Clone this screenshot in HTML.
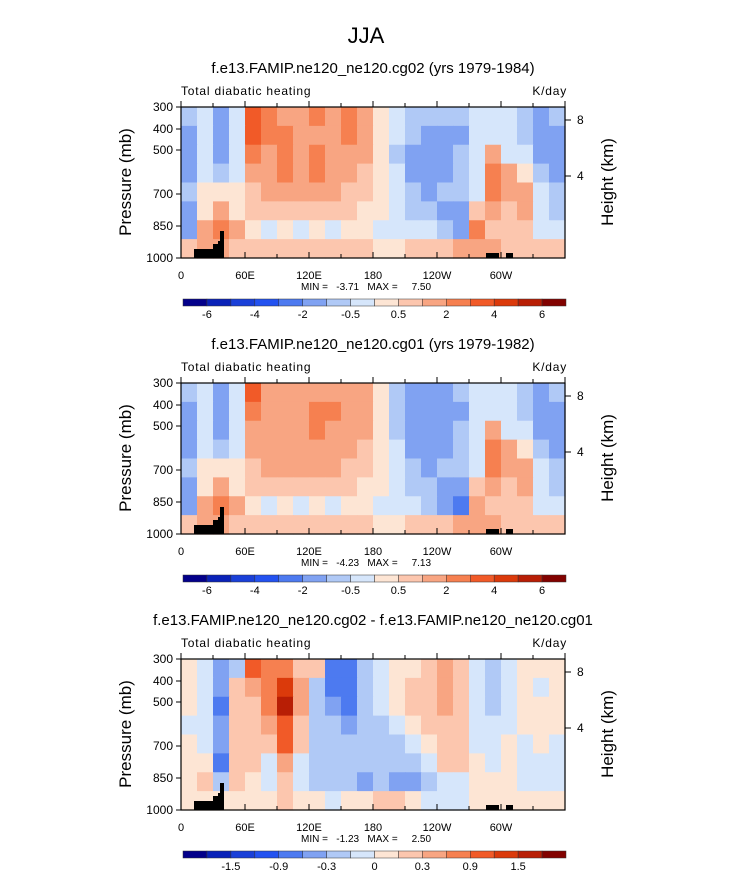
<!DOCTYPE html>
<html><head><meta charset="utf-8"><style>
body{margin:0;background:#fff;}
svg{display:block;font-family:"Liberation Sans",sans-serif;}
</style></head><body>
<svg id="fig" width="733" height="873" viewBox="0 0 733 873">
<text x="366" y="43" text-anchor="middle" font-size="22">JJA</text>
</svg>
<script>
// longitude columns (15 deg each, 0..360), rows 300mb->1000mb
const lonCols = [0,15,30,45,60,75,90,105,120,135,150,165,180,195,210,225,240,255,270,285,300,315,330,345];
const xTickLabels = ["0","60E","120E","180","120W","60W"];
const pTicks = [300,400,500,700,850,1000];
const hTicks = [8,4];
const levels1 = [-6,-5,-4,-3,-2,-1,-0.5,0,0.5,1,2,3,4,5,6];
const levels3 = [-1.8,-1.5,-1.2,-0.9,-0.6,-0.3,-0.15,0,0.15,0.3,0.6,0.9,1.2,1.5,1.8];
const cbLabels1 = ["-6","-4","-2","-0.5","0.5","2","4","6"];
const cbLabels3 = ["-1.5","-0.9","-0.3","0","0.3","0.9","1.5"];
const palette = ["#03008a","#0a22b8","#1a40d8","#2352f0","#4d7af0","#80a2f2","#b0c9f6","#d6e6fb","#fde5d4","#fcc6ae","#f8a582","#f68050","#f15a28","#db3a0b","#b81e05","#820200"];
const panel1 = [
[-1,-0.3,-1.5,-0.3,3.2,2.2,1.5,1.5,2.2,1.5,2.2,1.5,0.3,-0.3,-1,-1,-1,-1,-0.3,-0.3,-0.3,-1,-1.5,-1],
[-1.5,-0.3,-1.5,-0.3,3.2,2.2,2.2,1.5,1.5,1.5,2.2,1.5,0.3,-0.3,-1,-1.5,-1.5,-1.5,-0.3,-0.3,-0.3,-1,-1.5,-1.5],
[-1.5,-0.3,-1.5,-0.3,2.2,1.5,2.2,1.5,2.2,1.5,1.5,1.2,0.3,-1,-1.5,-1.5,-1.5,-1,-0.3,1.5,-0.3,-0.3,-1.5,-1.5],
[-1.5,-0.3,-1,-0.3,1.5,1.2,2.2,1.5,2.2,1.5,1.2,0.8,0.3,-0.3,-1.5,-1.5,-1.5,-1,-0.3,2.2,1,0.3,-1,-1.5],
[-1,0.3,0.3,0.3,0.8,1.2,1.5,1.2,1.5,1.2,0.8,0.7,0.3,-0.3,-1,-1.5,-1,-1,-0.3,2.2,1,1.5,-0.3,-1],
[-1.5,0.3,1.5,0.3,0.5,0.5,0.8,0.5,0.8,0.5,0.5,0.3,0.2,-0.3,-1,-1,-1.5,-2,0.5,1.5,0.5,1,-0.3,-1],
[-2,1,2.5,1.5,0.3,-0.3,0.3,-0.3,0.3,-0.3,0.3,0.3,-0.3,-0.3,-0.3,-0.5,-0.8,-1.5,2,0.5,0.5,0.5,-0.3,-0.5],
[0.5,1.5,1.5,0.5,0.5,0.5,0.5,0.5,0.5,0.5,0.5,0.5,0.3,0.3,0.5,0.5,0.5,1,1.5,1.5,0.5,0.5,0.5,0.5]];
const panel2 = [
[-1,-0.3,-1.5,-0.3,3.2,1.5,1.5,1.5,1.5,1.5,1.5,1,0.3,-1,-1.5,-1.5,-1.5,-1,-0.3,-0.3,-0.3,-1,-1.5,-1],
[-1.5,-0.3,-1.5,-0.3,2.2,1.5,1.5,1.5,2.2,2.2,1.5,1,0.3,-1,-1.5,-1.5,-1.5,-1.5,-0.3,-0.3,-0.3,-1,-1.5,-1.5],
[-1.5,-0.3,-1.5,-0.3,1.5,1.5,1.5,1.5,2.2,1.5,1.5,1,0.3,-1,-1.5,-1.5,-1.5,-1,-0.3,1.5,-0.3,-0.3,-1.5,-1.5],
[-1.5,-0.3,-1,-0.3,1.2,1,1.5,1.5,1.5,1.5,1,0.8,0.3,-0.3,-1.5,-1.5,-1.5,-1,-0.3,2.2,1,0.3,-1,-1.5],
[-1,0.3,0.3,0.3,0.8,1,1.2,1,1.2,1,0.8,0.5,0.3,-0.3,-1,-1.5,-1,-1,-0.3,2.2,1,1.5,-0.3,-1],
[-1.5,0.3,1.5,0.3,0.5,0.5,0.8,0.5,0.8,0.5,0.5,0.3,0.2,-0.3,-1,-1,-1.5,-2,0.5,1.5,0.5,1,-0.3,-1],
[-2,1,2.5,1.5,0.3,-0.3,0.3,-0.3,0.3,-0.3,0.3,0.3,-0.3,-0.3,-0.3,-0.8,-1.5,-2.5,1.5,0.5,0.5,0.5,-0.3,-0.5],
[0.5,1.5,1.5,0.5,0.5,0.5,0.5,0.5,0.5,0.5,0.5,0.5,0.3,0.3,0.5,0.5,0.5,1,1.5,1.5,0.5,0.5,0.5,0.5]];
const panel3 = [
[0.1,-0.1,-0.4,-0.2,0.9,0.7,0.7,0.2,0.2,-0.7,-0.7,-0.2,-0.1,0.1,0.1,0.2,0.4,0.2,-0.1,-0.2,-0.1,0.1,0.1,0.1],
[0.1,-0.1,-0.4,0.2,0.4,0.7,1.3,0.4,-0.2,-0.7,-0.7,-0.2,-0.1,0.1,0.2,0.2,0.4,0.2,-0.1,-0.2,-0.1,0.1,-0.1,0.1],
[0.1,-0.1,-0.7,0.2,0.2,0.7,1.6,0.4,-0.2,-0.4,-0.7,-0.2,-0.1,0.1,0.2,0.2,0.4,0.2,-0.1,-0.2,-0.1,0.1,0.1,0.1],
[-0.1,-0.1,-0.4,0.2,0.2,0.4,1.0,0.2,-0.2,-0.2,-0.4,-0.2,-0.2,-0.1,0.1,0.2,0.2,0.2,-0.1,-0.1,-0.1,0.1,0.1,0.1],
[0.1,-0.1,-0.4,0.2,0.2,0.2,1.0,0.2,-0.2,-0.2,-0.2,-0.2,-0.2,-0.2,-0.1,0.1,0.2,0.2,-0.1,-0.1,0.1,-0.1,0.1,-0.1],
[0.1,0.1,-0.7,0.2,0.2,-0.1,0.4,-0.1,-0.2,-0.2,-0.2,-0.2,-0.2,-0.2,-0.2,-0.1,0.2,0.2,0.1,-0.1,0.1,-0.1,-0.1,-0.1],
[0.1,0.2,-0.2,0.2,0.1,-0.1,0.2,-0.1,-0.2,-0.2,-0.2,-0.4,-0.2,-0.4,-0.4,-0.2,-0.1,-0.1,0.1,0.1,0.1,-0.1,-0.1,-0.1],
[0.1,0.1,0.1,0.1,0.1,0.1,0.2,0.1,0.1,-0.1,0.1,0.1,0.2,0.2,0.1,-0.1,-0.1,-0.1,0.1,0.1,0.1,0.1,0.1,0.1]];
const titles = ["f.e13.FAMIP.ne120_ne120.cg02 (yrs 1979-1984)","f.e13.FAMIP.ne120_ne120.cg01 (yrs 1979-1982)","f.e13.FAMIP.ne120_ne120.cg02 - f.e13.FAMIP.ne120_ne120.cg01"];
const minmax = ["MIN =   -3.71   MAX =     7.50","MIN =   -4.23   MAX =     7.13","MIN =   -1.23   MAX =     2.50"];

const NS="http://www.w3.org/2000/svg";
const svg=document.getElementById('fig');
function mk(tag,attrs,parent){const e=document.createElementNS(NS,tag);for(const k in attrs)e.setAttribute(k,attrs[k]);(parent||svg).appendChild(e);return e;}
const X0=181,W=384,H=151;
const xScale=lon=>X0+lon/360*W;
const pPix={300:0,400:22,500:43,700:87,850:119,1000:151};
function colorIdx(v,lv){let i=0;for(const b of lv){if(v>=b)i++;}return i;}

function drawPanel(k,top,data,lv,cbl,oddLabels){
  const g=mk('g',{});
  
  
  const t=mk('text',{x:373,y:top-34,'text-anchor':'middle','font-size':15},g);t.textContent=titles[k];
  
  const s=mk('text',{x:X0,y:top-12,'font-size':12,'letter-spacing':'0.8'},g);s.textContent="Total diabatic heating";
  
  const u=mk('text',{x:567,y:top-12,'font-size':12,'text-anchor':'end','letter-spacing':'0.8'},g);u.textContent="K/day";
  
  const rows=data.length, rh=H/rows, cw=W/lonCols.length;
  const cells=mk('g',{},g);
  
  data.forEach((row,r)=>row.forEach((v,c)=>{
    const rc=mk('rect',{x:xScale(lonCols[c]),y:top+r*rh,width:cw+0.6,height:rh+0.6,fill:palette[colorIdx(v,lv)]},cells);
    
    
  }));
  const terr=mk('path',{fill:'#000',d:`M194 ${top+151}V${top+142}H213V${top+137}H218V${top+134}H220V${top+124}H224V${top+151}Z M486 ${top+151}V${top+146}H499V${top+151}Z M506 ${top+151}V${top+146}H513V${top+151}Z`},g);
  
  const fr=mk('rect',{x:X0,y:top,width:W,height:H,fill:'none',stroke:'#000','stroke-width':1.2},g);
  
  for(let lon=0;lon<=360;lon+=30){
    const x=xScale(lon),L=lon%60===0?6:4;
    mk('line',{x1:x,x2:x,y1:top+H,y2:top+H-L,stroke:'#000'},g);
    mk('line',{x1:x,x2:x,y1:top,y2:top-L,stroke:'#000'},g);
  }
  xTickLabels.forEach((lab,i)=>{const tx=mk('text',{x:xScale(i*60),y:top+H+21,'text-anchor':'middle','font-size':11},g);tx.textContent=lab;
    });
  pTicks.forEach(p=>{const y=top+pPix[p];mk('line',{x1:X0,x2:X0-5,y1:y,y2:y,stroke:'#000'},g);
    const tx=mk('text',{x:X0-8,y:y+4,'text-anchor':'end','font-size':12},g);tx.textContent=p;
    });
  hTicks.forEach((h,i)=>{const y=top+(i===0?13:69);mk('line',{x1:565,x2:571,y1:y,y2:y,stroke:'#000'},g);
    const tx=mk('text',{x:577,y:y+4,'font-size':12},g);tx.textContent=h;
    });
  const yl=mk('text',{transform:`translate(131,${top+75}) rotate(-90)`,'text-anchor':'middle','font-size':17},g);yl.textContent="Pressure (mb)";
  
  const hl=mk('text',{transform:`translate(613,${top+75}) rotate(-90)`,'text-anchor':'middle','font-size':17},g);hl.textContent="Height (km)";
  
  const mm=mk('text',{x:301,y:top+183,'font-size':10,style:'white-space:pre'},g);mm.textContent=minmax[k];
  
  const cb=mk('g',{},g);
  const bw=(566-183)/palette.length;
  palette.forEach((c,i)=>{const r=mk('rect',{x:183+i*bw,y:top+192,width:bw,height:7,fill:c,stroke:'#333','stroke-width':0.5},cb);
    });
  cbl.forEach((lab,i)=>{const b=oddLabels?2*i+1:2*i+2;
    const tx=mk('text',{x:183+bw*b,y:top+211,'text-anchor':'middle','font-size':11},cb);tx.textContent=lab;
    });
}
drawPanel(0,107,panel1,levels1,cbLabels1,true);
drawPanel(1,383,panel2,levels1,cbLabels1,true);
drawPanel(2,659,panel3,levels3,cbLabels3,false);
</script>
</body></html>
